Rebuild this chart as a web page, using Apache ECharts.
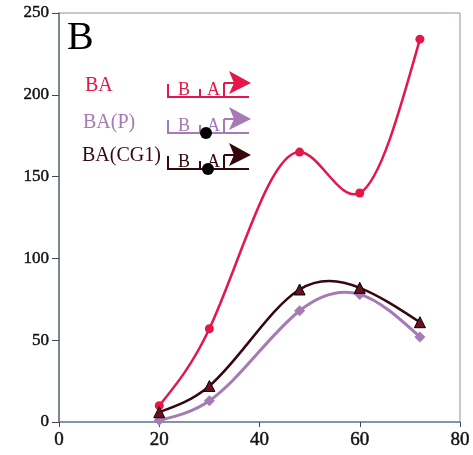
<!DOCTYPE html>
<html><head><meta charset="utf-8">
<script src="https://cdn.jsdelivr.net/npm/echarts@6/dist/echarts.min.js"></script>
<style>html,body{margin:0;padding:0;background:#fff}#c{width:473px;height:455px}</style>
</head><body><div id="c"></div>
<script>
var xValues = [20, 30, 48, 60, 72];
var baValues = [10, 57, 165, 140, 234];
var baPValues = [1, 13, 68, 78, 52];
var baCG1Values = [6, 22, 81, 82, 61];
var xTicks = [0, 20, 40, 60, 80];
var yTicks = [0, 50, 100, 150, 200, 250];
var seriesNames = ['BA', 'BA(P)', 'BA(CG1)'];

function pairs(vals){ return xValues.map(function(x,i){ return [x, vals[i]]; }); }

var RED = '#e3174a', PURP = '#a57ab5', DARK = '#35080f', MAROON = '#6b0f22';
var font = 'Liberation Serif';

// natural cubic spline through the data points, drawn as bezier path in pixel space
function splinePath(vals, api) {
  var pts = xValues.map(function(x,i){ return api.coord([x, vals[i]]); });
  var n = pts.length, i;
  var X = pts.map(function(p){return p[0];}), Y = pts.map(function(p){return p[1];});
  var h = [], s = [];
  for (i = 0; i < n-1; i++) { h.push(X[i+1]-X[i]); s.push((Y[i+1]-Y[i])/h[i]); }
  var M = new Array(n).fill(0);
  var m = n - 2;
  if (m > 0) {
    var a = [], b = [], c = [], d = [];
    for (i = 1; i <= m; i++) {
      a.push(h[i-1]); b.push(2*(h[i-1]+h[i])); c.push(h[i]); d.push(6*(s[i]-s[i-1]));
    }
    for (i = 1; i < m; i++) {
      var w = a[i]/b[i-1];
      b[i] -= w*c[i-1]; d[i] -= w*d[i-1];
    }
    var sol = new Array(m);
    sol[m-1] = d[m-1]/b[m-1];
    for (i = m-2; i >= 0; i--) sol[i] = (d[i]-c[i]*sol[i+1])/b[i];
    for (i = 0; i < m; i++) M[i+1] = sol[i];
  }
  var D = [];
  for (i = 0; i < n-1; i++) D.push(s[i] - h[i]*(2*M[i]+M[i+1])/6);
  D.push(s[n-2] + h[n-2]*(M[n-2]+2*M[n-1])/6);
  var path = 'M' + X[0] + ' ' + Y[0];
  for (i = 0; i < n-1; i++) {
    var t = h[i]/3;
    path += ' C' + (X[i]+t) + ' ' + (Y[i]+D[i]*t) + ' ' + (X[i+1]-t) + ' ' + (Y[i+1]-D[i+1]*t) + ' ' + X[i+1] + ' ' + Y[i+1];
  }
  return path;
}

function curveSeries(name, vals, color, width, z) {
  return {name:name, type:'custom', coordinateSystem:'cartesian2d', data:pairs(vals), z:z, silent:true,
    encode:{x:0, y:1},
    renderItem:function(params, api){
      if (params.dataIndex !== 0) return null;
      return {type:'path', shape:{pathData: splinePath(vals, api)},
        style:{stroke:color, lineWidth:width, fill:'none'}};
    }};
}

function diagram(dy, color, dot) {
  var els = [];
  var ls = {stroke: color, lineWidth: 2};
  els.push({type:'line', shape:{x1:167,y1:97+dy,x2:249,y2:97+dy}, style:ls});
  els.push({type:'line', shape:{x1:168,y1:84+dy,x2:168,y2:97+dy}, style:ls});
  els.push({type:'line', shape:{x1:200,y1:89+dy,x2:200,y2:97+dy}, style:ls});
  els.push({type:'text', style:{text:'B', x:178, y:90+dy, fill:color, font:'18px "'+font+'"', verticalAlign:'middle'}});
  els.push({type:'text', style:{text:'A', x:207, y:90+dy, fill:color, font:'18px "'+font+'"', verticalAlign:'middle'}});
  els.push({type:'line', shape:{x1:224,y1:83+dy,x2:224,y2:97+dy}, style:ls});
  els.push({type:'line', shape:{x1:224,y1:83+dy,x2:236,y2:83+dy}, style:ls});
  els.push({type:'polygon', shape:{points:[[229,71+dy],[251,83+dy],[229,94+dy],[234,83+dy]]}, style:{fill:color}});
  if (dot) els.push({type:'circle', shape:{cx:dot[0], cy:dot[1], r:6}, style:{fill:'#000'}});
  return els;
}

var graphics = [
  {type:'text', style:{text:'B', x:67, y:38, fill:'#000', font:'40px "'+font+'"', verticalAlign:'middle'}},
  {type:'text', style:{text:seriesNames[0], x:85, y:86, fill:RED, font:'20px "'+font+'"', verticalAlign:'middle'}},
  {type:'text', style:{text:seriesNames[1], x:83, y:123, fill:PURP, font:'20px "'+font+'"', verticalAlign:'middle'}},
  {type:'text', style:{text:seriesNames[2], x:82, y:156, fill:DARK, font:'20px "'+font+'"', verticalAlign:'middle'}}
].concat(diagram(0, RED, null), diagram(36, PURP, [206,133]), diagram(72, DARK, [208,169]));

var chart = echarts.init(document.getElementById('c'), null, {renderer:'canvas'});
chart.setOption({
  animation: false,
  backgroundColor: '#fff',
  grid: {left:59, right:13, top:13, bottom:33, show:true, borderColor:'#8797a6', borderWidth:1},
  xAxis: {type:'value', min:xTicks[0], max:xTicks[xTicks.length-1], interval:20,
    axisLine:{show:true, onZero:false, lineStyle:{color:'#6f8597', width:1.5}},
    axisTick:{show:true, length:5, lineStyle:{color:'#445'}},
    splitLine:{show:false},
    axisLabel:{color:'#111', fontFamily:font, fontSize:19, margin:9, textBorderColor:'#333', textBorderWidth:0.5}},
  yAxis: {type:'value', min:yTicks[0], max:yTicks[yTicks.length-1], interval:50,
    axisLine:{show:true, onZero:false, lineStyle:{color:'#5f6f7d', width:1.5}},
    axisTick:{show:true, length:7, lineStyle:{color:'#445'}},
    splitLine:{show:false},
    axisLabel:{color:'#111', fontFamily:font, fontSize:17, margin:10, textBorderColor:'#333', textBorderWidth:0.5}},
  series: [
    curveSeries(seriesNames[1], baPValues, PURP, 3, 2),
    curveSeries(seriesNames[0], baValues, RED, 2.5, 3),
    curveSeries(seriesNames[2], baCG1Values, DARK, 2.5, 4),
    {name:seriesNames[0], type:'scatter', data:pairs(baValues), symbol:'circle', symbolSize:9,
      itemStyle:{color:RED, opacity:1}, z:5},
    {name:seriesNames[1], type:'scatter', data:pairs(baPValues), symbol:'diamond', symbolSize:11,
      itemStyle:{color:PURP, opacity:1}, z:5},
    {name:seriesNames[2], type:'scatter', data:pairs(baCG1Values), symbol:'triangle', symbolSize:11,
      itemStyle:{color:MAROON, borderColor:'#000', borderWidth:1, opacity:1}, z:6}
  ],
  graphic: graphics
});
</script></body></html>
